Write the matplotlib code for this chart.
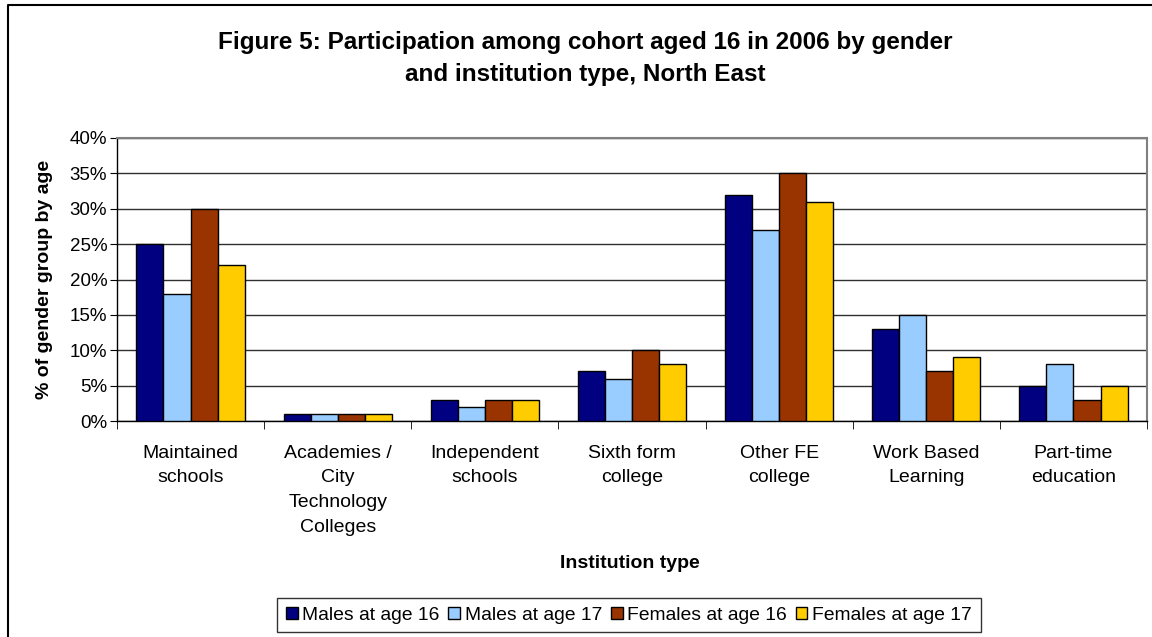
import numpy as np
import matplotlib.pyplot as plt
from matplotlib.lines import Line2D

plt.rcParams['font.family'] = ['Liberation Sans', 'DejaVu Sans']

categories = ["Maintained\nschools", "Academies /\nCity\nTechnology\nColleges", "Independent\nschools",
              "Sixth form\ncollege", "Other FE\ncollege", "Work Based\nLearning", "Part-time\neducation"]
series_names = ["Males at age 16", "Males at age 17", "Females at age 16", "Females at age 17"]
males_16 = [25, 1, 3, 7, 32, 13, 5]
males_17 = [18, 1, 2, 6, 27, 15, 8]
females_16 = [30, 1, 3, 10, 35, 7, 3]
females_17 = [22, 1, 3, 8, 31, 9, 5]
colors = ["#000080", "#99CCFF", "#993300", "#FFCC00"]

W, H = 1152, 637
fig = plt.figure(figsize=(W/100, H/100), dpi=100)
ax = fig.add_axes([117/W, 1 - 421/H, 1030/W, 283/H])

x = np.arange(len(categories))
bw = 0.184
all_series = [males_16, males_17, females_16, females_17]
for i, (vals, name, c) in enumerate(zip(all_series, series_names, colors)):
    ax.bar(x + (i - 1.5) * bw, vals, bw, color=c, edgecolor='black', linewidth=1,
           label=name, zorder=3)

ax.set_xlim(-0.5, len(categories) - 0.5)
ax.set_ylim(0, 40)
ax.set_yticks(range(0, 41, 5))
ax.set_yticklabels([f"{v}%" for v in range(0, 41, 5)], fontsize=13.5)
ax.yaxis.grid(True, color='#303030', linewidth=1, zorder=0)
ax.set_axisbelow(True)

ax.set_xticks(x)
ax.set_xticklabels(categories, fontsize=14, linespacing=1.6)
ax.tick_params(axis='x', which='major', length=0, pad=17)
ax.set_xticks(np.arange(-0.5, len(categories)), minor=True)
ax.tick_params(axis='x', which='minor', length=6, color='black', direction='out')
ax.tick_params(axis='y', length=5, color='black', pad=2)

for s in ['left', 'bottom']:
    ax.spines[s].set_color('black')
    ax.spines[s].set_linewidth(1)
for s in ['top', 'right']:
    ax.spines[s].set_color('#808080')
    ax.spines[s].set_linewidth(1.5)

ax.set_ylabel("% of gender group by age", fontsize=14, fontweight='bold', labelpad=12)
fig.text(630/W, 1 - 563/H, "Institution type", ha='center', va='center',
         fontsize=14, fontweight='bold')
fig.text(585/W, 1 - 58/H, "Figure 5: Participation among cohort aged 16 in 2006 by gender\nand institution type, North East",
         ha='center', va='center', fontsize=17.5, fontweight='bold', linespacing=1.5)

leg = ax.legend(loc='center', bbox_to_anchor=(629/W, 1 - 615/H), bbox_transform=fig.transFigure,
                ncol=4, fontsize=13.9, frameon=True, fancybox=False, edgecolor='black',
                handlelength=0.6, handleheight=0.6, handletextpad=0.25, columnspacing=0.45,
                borderpad=0.45)
leg.get_frame().set_linewidth(1)

fig.add_artist(Line2D([8/W, 8/W, 1.0], [0.0, 1 - 5/H, 1 - 5/H], transform=fig.transFigure,
                      color='black', linewidth=1.5))

fig.savefig("out.png", dpi=100)
